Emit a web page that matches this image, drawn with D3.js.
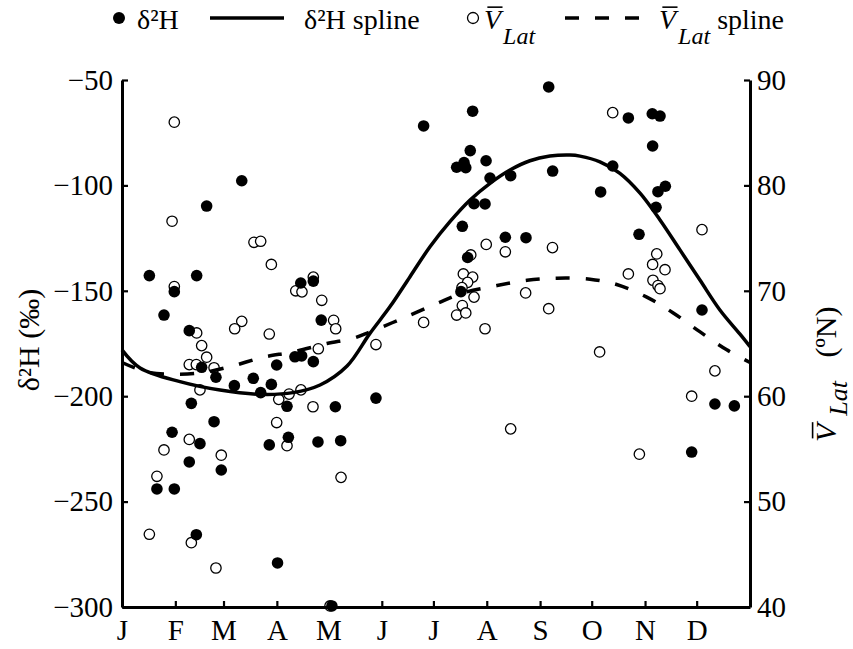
<!DOCTYPE html>
<html><head><meta charset="utf-8">
<script src="https://cdn.jsdelivr.net/npm/d3@7"></script>
<style>
body{margin:0;background:#fff;}
svg{display:block;}
text{font-family:"Liberation Serif","Times New Roman",serif;fill:#000;}
</style></head>
<body>
<svg id="chart" width="853" height="649"></svg>
<script>
// ---- data (day of year) ----
const monthStarts = [0,31,59,90,120,151,181,212,243,273,304,334];
const monthLabels = ["J","F","M","A","M","J","J","A","S","O","N","D"];
const leftTicks = [-50,-100,-150,-200,-250,-300];
const rightTicks = [40,50,60,70,80,90];

// δ2H observations (filled circles)
const d2hDay = [15.9,30.4,24.4,43.4,39.1,49.2,69.6,46.3,54.6,65.3,76.3,80.6,40.3,53.5,29.1,45.3,39.1,57.7,20.3,30.4,43.2,
  86.8,89.9,95.9,96.7,85.6,113.9,127.1,124.0,103.9,111.2,115.8,100.5,104.4,111.2,90.4,122,147.6,
  175.3,203.8,248,202.4,198.8,194.5,199.8,211.6,213.9,225.9,250.3,204.6,211.0,197.8,222.8,234.8,200.9,197.0,
  294.3,308.2,312.7,308.4,285.2,278.2,311.5,315.8,310.4,300.5,337.1,344.6,355.9,331.1];
const d2hVal = [-142.8,-150.4,-161.5,-142.8,-168.9,-109.8,-97.8,-186.3,-191.0,-195.0,-191.5,-198.3,-203.4,-212.1,-217.1,-222.5,-231.2,-235.0,-244.0,-244.0,-265.7,
  -194.4,-185.2,-204.8,-219.5,-223.1,-221.7,-221.1,-205.0,-146.3,-145.4,-163.9,-181.3,-180.9,-183.6,-279.1,-299.5,-200.9,
  -71.8,-64.8,-53.3,-83.5,-89.2,-91.4,-91.6,-88.3,-96.5,-95.4,-93.2,-108.7,-108.8,-119.4,-124.6,-124.8,-134.2,-150.4,
  -68.0,-66.0,-67.1,-81.3,-90.8,-103.1,-103.0,-100.4,-110.4,-123.2,-159.1,-203.7,-204.6,-226.5];

// mean latitude observations (open circles)
const latDay = [30.4,29.1,76.7,80.6,30.4,69.6,65.5,43.4,46.3,49.2,39.1,43.2,53.5,45.3,39.1,24.4,57.7,20.3,15.9,40.3,54.6,
  86.8,111.2,101.0,104.6,116.1,123.0,124.2,85.6,114.1,91.1,97.1,104.0,111.0,89.9,95.9,127.3,120.9,147.6,
  175.3,211.7,222.8,250.2,202.7,198.4,203.8,200.9,197.6,204.6,197.8,194.5,199.8,211.0,234.6,248,225.9,
  277.6,285.2,337.1,310.8,308.4,315.6,294.3,308.6,311.5,312.7,344.6,331.1,300.7];
const latVal = [86.0,76.6,74.6,74.7,70.4,67.1,66.4,66.0,64.8,63.7,63.0,63.0,62.7,60.6,55.9,54.9,54.4,52.4,46.9,46.1,43.7,
  72.5,71.3,70.0,69.9,69.1,67.2,66.4,65.9,64.5,59.7,60.2,60.6,59.0,57.5,55.3,52.3,40.1,64.9,
  67.0,74.4,73.7,74.1,73.4,71.6,71.3,70.8,70.3,69.4,68.6,67.7,67.9,66.4,69.8,68.3,56.9,
  64.2,86.9,75.8,73.5,72.5,72.0,71.6,71.0,70.5,70.2,62.4,60.0,54.5];

// δ2H spline
const d2hSplineDay = [0,10.5,33.7,57,80.2,99.4,115.1,130.8,144.1,155.8,167.4,179.0,190.6,202.3,213.9,225.5,237.1,248.7,260.4,266.2,277.8,289.4,301.1,312.7,324.3,335.9,347.5,359.2,365];
const d2hSplineVal = [-178,-186.6,-193.1,-197.1,-199.1,-198.3,-194.7,-185.7,-170.2,-157.5,-143.3,-129.1,-117.2,-106.9,-99.0,-92.7,-88.3,-86.1,-85.6,-86.1,-88.8,-94.3,-103.7,-116.4,-130.6,-144.9,-159.1,-170.6,-176.5];

// mean latitude spline
const latSplineDay = [0,14.5,27.9,45.3,62.8,82,99.4,119.1,134.3,144.1,163.3,183.1,198.2,218,235.4,252.8,272,287.5,305,320.4,336,351.5,365];
const latSplineVal = [63.2,62.3,62.1,62.2,62.8,63.7,64.2,65.0,65.5,66.1,67.4,68.8,69.8,70.5,71.0,71.2,71.1,70.6,69.4,67.9,66.1,64.4,63.2];

// ---- drawing ----
const svg = d3.select("#chart");
const L = 122, R = 750, T = 80, B = 607;
const x = d3.scaleLinear().domain([0,365]).range([L,R]);
const yL = d3.scaleLinear().domain([-300,-50]).range([B,T]);
const yR = d3.scaleLinear().domain([40,90]).range([B,T]);
const FS = 29;

// open circles
svg.append("g").selectAll("circle").data(latDay).join("circle")
  .attr("cx",(d)=>x(d)).attr("cy",(d,i)=>yR(latVal[i])).attr("r",5.2)
  .attr("fill","#fff").attr("stroke","#000").attr("stroke-width",1.3);
// filled circles
svg.append("g").selectAll("circle").data(d2hDay).join("circle")
  .attr("cx",(d)=>x(d)).attr("cy",(d,i)=>yL(d2hVal[i])).attr("r",5.8)
  .attr("fill","#000");

// splines
const lineL = d3.line().x(d=>x(d[0])).y(d=>yL(d[1])).curve(d3.curveCatmullRom);
const lineR = d3.line().x(d=>x(d[0])).y(d=>yR(d[1])).curve(d3.curveCatmullRom);
svg.append("path").attr("d", lineL(d2hSplineDay.map((d,i)=>[d,d2hSplineVal[i]])))
  .attr("fill","none").attr("stroke","#000").attr("stroke-width",3.5);
svg.append("path").attr("d", lineR(latSplineDay.map((d,i)=>[d,latSplineVal[i]])))
  .attr("fill","none").attr("stroke","#000").attr("stroke-width",3.5).attr("stroke-dasharray","14,16");

// axes
function styleAxis(g){
  g.select(".domain").attr("stroke","#000").attr("stroke-width",3);
  g.selectAll(".tick line").attr("stroke","#000").attr("stroke-width",2.2);
  g.selectAll(".tick text").attr("font-size",FS).attr("font-family","Liberation Serif, Times New Roman, serif");
}
svg.append("g").attr("transform",`translate(${L},0)`)
  .call(d3.axisLeft(yL).tickValues(leftTicks).tickSize(-6).tickSizeOuter(0).tickPadding(9))
  .call(styleAxis);
svg.append("g").attr("transform",`translate(${R},0)`)
  .call(d3.axisRight(yR).tickValues(rightTicks).tickSize(-6).tickSizeOuter(0).tickPadding(7))
  .call(styleAxis);
svg.append("g").attr("transform",`translate(0,${B})`)
  .call(d3.axisBottom(x).tickValues(monthStarts).tickFormat((d,i)=>monthLabels[i]).tickSize(-6).tickSizeOuter(0).tickPadding(12))
  .call(styleAxis);

// left axis title
svg.append("text").attr("transform","translate(39,340) rotate(-90)")
  .attr("text-anchor","middle").attr("font-size",30).text("δ²H (‰)");

// helper: V-bar with subscript Lat
function vlat(parent, x0, y0, fs, subFs, subDy, subDx, rest, restDx){
  const t = parent.append("text").attr("x",x0).attr("y",y0).attr("font-size",fs);
  t.append("tspan").attr("font-style","italic").text("V");
  t.append("tspan").attr("font-style","italic").attr("font-size",subFs).attr("dy",subDy).attr("dx",subDx).text("Lat");
  if(rest) t.append("tspan").attr("dy",-subDy).attr("dx",restDx).text(rest);
  const e = t.node().getExtentOfChar(0);
  parent.append("line").attr("x1",e.x+fs*0.12).attr("x2",e.x+e.width+fs*0.05)
    .attr("y1",y0-fs*0.78).attr("y2",y0-fs*0.78).attr("stroke","#000").attr("stroke-width",1.6);
  return t;
}

// right axis title
const rg = svg.append("g").attr("transform","translate(836,442) rotate(-90)");
vlat(rg, 0, 0, 30, 26, 11, 8, " (ºN)", 16);

// legend
const lg = svg.append("g");
lg.append("circle").attr("cx",119).attr("cy",18).attr("r",6).attr("fill","#000");
lg.append("text").attr("x",137).attr("y",29).attr("font-size",28).text("δ²H");
lg.append("line").attr("x1",210).attr("x2",284).attr("y1",18).attr("y2",18).attr("stroke","#000").attr("stroke-width",3.5);
lg.append("text").attr("x",304).attr("y",29).attr("font-size",28).text("δ²H spline");
lg.append("circle").attr("cx",473).attr("cy",18).attr("r",5.5).attr("fill","#fff").attr("stroke","#000").attr("stroke-width",1.3);
vlat(lg, 484, 29, 28, 24, 15, 2, null, 0);
lg.append("line").attr("x1",565).attr("x2",642).attr("y1",18).attr("y2",18).attr("stroke","#000").attr("stroke-width",3.5).attr("stroke-dasharray","14,16");
vlat(lg, 659, 29, 28, 24, 15, 2, " spline", 0);
</script>
</body></html>
